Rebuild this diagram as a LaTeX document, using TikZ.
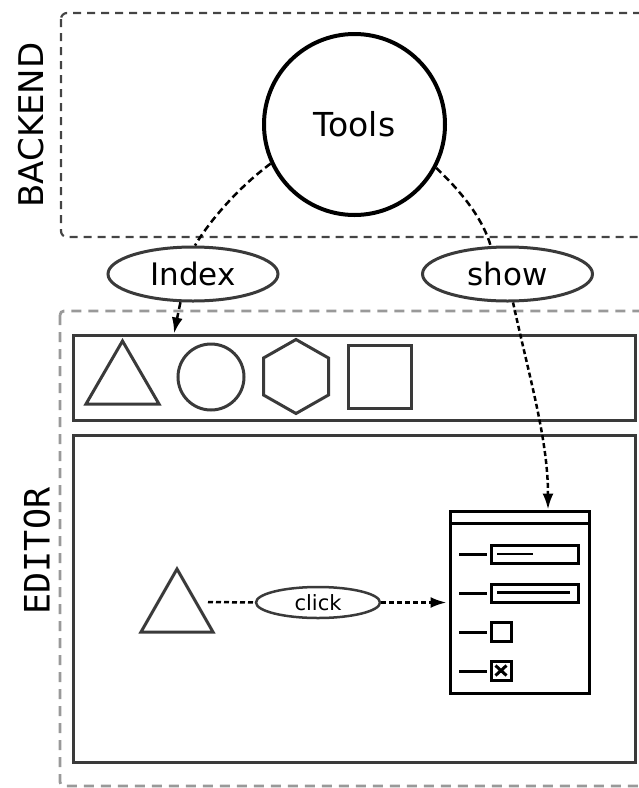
\documentclass[tikz,border=0pt]{standalone}
\usepackage{fontspec}
\setmainfont{DejaVu Sans}
\newfontfamily\monof{DejaVu Sans Mono}
\usetikzlibrary{shapes.geometric,arrows.meta}
\definecolor{shapegray}{HTML}{3A3A3A}
\definecolor{boxgray}{HTML}{444444}
\definecolor{lightgr}{HTML}{999999}
\tikzset{
  shp/.style={draw=shapegray,line width=3pt,line join=miter},
  lab/.style={ellipse,draw=shapegray,line width=3pt,inner sep=0pt,minimum width=170pt,minimum height=54pt},
  link/.style={draw=black,line width=2.5pt,dash pattern=on 7pt off 4pt},
  flow/.style={draw=black,line width=2.5pt,dash pattern=on 5pt off 3pt},
  tip/.style={-{Latex[length=16pt,width=11pt]}},
  win/.style={draw=black,line width=3pt},
}
\begin{document}
\begin{tikzpicture}[x=1pt,y=-1pt]
\clip (0,0) rectangle (639,788);
% group boxes
\draw[boxgray,line width=2.2pt,dash pattern=on 8pt off 6pt,rounded corners=6pt] (61,13) rectangle (680,237);
\draw[lightgr,line width=2.8pt,dash pattern=on 10pt off 7pt,rounded corners=4pt] (60,311) rectangle (680,786);
\node[rotate=90,font=\fontsize{34}{40}\selectfont] (backlbl) at (31,125) {BACKEND};
\node[rotate=90,font=\monof\fontsize{35}{40}\selectfont] (edlbl) at (37,551) {EDITOR};
% Tools
\node[circle,draw=black,line width=4pt,minimum size=181pt,inner sep=0pt,font=\fontsize{33}{38}\selectfont] (tools) at (354.5,124.5) {Tools};
% labels
\node[lab,font=\fontsize{31}{36}\selectfont] (index) at (193,274) {Index};
\node[lab,font=\fontsize{31}{36}\selectfont] (show) at (507.5,274) {show};
% toolbar and canvas panels
\node[shp,rectangle,minimum width=562pt,minimum height=85pt,inner sep=0pt] (tb) at (354,377.5) {};
\node[shp,rectangle,minimum width=562pt,minimum height=327pt,inner sep=0pt] (canvas) at (354,598.5) {};
% toolbar shapes
\draw[shp] (86,404) -- (159,404) -- (122.5,341) -- cycle;
\draw[shp] (211,377) circle[radius=33];
\draw[shp] (296,339.5) -- (328.5,358) -- (328.5,395) -- (296,413.5) -- (263.5,395) -- (263.5,358) -- cycle;
\draw[shp] (348,345) rectangle (411,408);
% canvas triangle
\draw[shp] (141,632) -- (213,632) -- (177,569) -- cycle;
\coordinate (triR) at (208,602);
\node[ellipse,draw=shapegray,line width=2.5pt,inner sep=0pt,minimum width=124pt,minimum height=31pt,font=\fontsize{21}{25}\selectfont] (click) at (318,602.5) {click};
% dialog window
\node[win,rectangle,minimum width=139pt,minimum height=182pt,inner sep=0pt] (dlg) at (519.5,602) {};
\draw[win] (450,523) -- (589,523);
\draw[win] (459,554) -- (487,554);
\draw[win] (491,545) rectangle (578,563);
\draw[black,line width=2.2pt] (497,554) -- (533,554);
\draw[win] (459,593) -- (487,593);
\draw[win] (491,584) rectangle (578,602);
\draw[black,line width=2.2pt] (497,592.5) -- (570,592.5);
\draw[win] (459,632) -- (487,632);
\draw[win] (491,622) rectangle (511,641);
\draw[win] (459,671) -- (487,671);
\draw[win] (491,661) rectangle (511,680);
\draw[black,line width=3pt] (495.5,665.5) -- (506.5,675.5) (506.5,665.5) -- (495.5,675.5);
% connectors
\draw[link] (tools.205) .. controls (235,190) and (207,225) .. (index.86);
\draw[link] (tools.332) .. controls (465,195) and (484,222) .. (show.121);
\draw[link,tip] (index.246) -- ([xshift=-180pt]tb.north);
\draw[flow,tip] (show.281) .. controls (530,380) and (548,440) .. ([xshift=28.5pt]dlg.north);
\draw[flow] (triR) -- (click.west);
\draw[flow,tip] (click.east) -- ([xshift=-2pt]dlg.west |- click.east);
\end{tikzpicture}
\end{document}
